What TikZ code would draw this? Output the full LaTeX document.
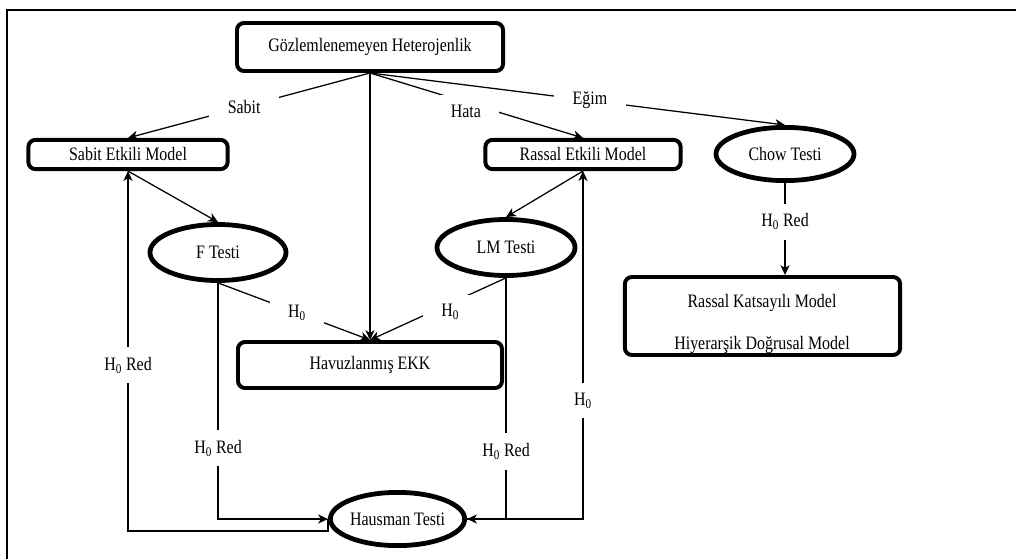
\documentclass[tikz,border=0pt]{standalone}
\usepackage{fontspec}
\setmainfont{Liberation Serif}[FakeStretch=0.84]
\usepackage{tikz}
\usetikzlibrary{shapes.geometric, arrows.meta, positioning, calc}
\tikzstyle{model} = [rectangle, draw=black, line width=2.8pt, rounded corners=5pt, text centered]
\tikzstyle{test} = [ellipse, draw=black, line width=3.4pt, inner sep=0pt, text centered]
\tikzstyle{arrow} = [line width=0.9pt, -{Stealth[length=7pt, width=6.5pt, inset=2pt]}]
\tikzstyle{link} = [line width=0.9pt]
\tikzstyle{tag} = [fill=white, inner xsep=13pt, inner ysep=7pt]

\begin{document}
\begin{tikzpicture}[x=0.025cm, y=-0.025cm, font=\fontsize{13.5}{16}\selectfont]
    \useasboundingbox (0,0) rectangle (1016,559);
    % Frame
    \draw[line width=1.2pt] (7,559) -- (7,10) -- (1016,10);

    % Models
    \node[model, minimum width=6.65cm, minimum height=1.2cm] (gozlem) at (370,47) {Gözlemlenemeyen Heterojenlik};
    \node[model, minimum width=4.98cm, minimum height=0.73cm] (sabit) at (128,154.5) {Sabit Etkili Model};
    \node[model, minimum width=4.88cm, minimum height=0.73cm] (rassal) at (583,154.5) {Rassal Etkili Model};
    \node[model, minimum width=6.6cm, minimum height=1.15cm] (havuz) at (370,365) {Havuzlanmış EKK};
    \node[model, minimum width=6.88cm, minimum height=1.95cm] (katsayi) at (762.5,316) {};
    \node (katsayi1) at (762,303) {Rassal Katsayılı Model};
    \node (katsayi2) at (762,345) {Hiyerarşik Doğrusal Model};

    % Tests
    \node[test, minimum width=3.4cm, minimum height=1.4cm] (ftest) at (218,252.5) {F Testi};
    \node[test, minimum width=3.45cm, minimum height=1.4cm] (lmtest) at (506,247.5) {LM Testi};
    \node[test, minimum width=3.45cm, minimum height=1.33cm] (chow) at (785,154) {Chow Testi};
    \node[test, minimum width=3.35cm, minimum height=1.33cm] (haus) at (397.5,519) {Hausman Testi};

    % From the top box
    \draw[arrow] (gozlem.south) -- node[tag, pos=0.52] {Sabit} (sabit.north);
    \draw[arrow] (gozlem.south) -- node[tag, pos=0.45, yshift=-0.23cm] {Hata} (rassal.north);
    \draw[arrow] (gozlem.south) -- node[tag, pos=0.53] {Eğim} (chow.north);
    \draw[arrow] (gozlem.south) -- (havuz.north);

    % Models to tests
    \draw[arrow] (sabit.south) -- (ftest.north);
    \draw[arrow] (rassal.south) -- (lmtest.north);
    \draw[arrow] (ftest.south) -- node[tag, pos=0.52] {H\textsubscript{0}} (havuz.north);
    \draw[arrow] (lmtest.south) -- node[tag, pos=0.41, yshift=-0.22cm] {H\textsubscript{0}} (havuz.north);

    % Hausman
    \draw[arrow] (ftest.south) |- node[tag, pos=0.35] {H\textsubscript{0} Red} (haus.west);
    \draw[arrow] (lmtest.south) |- node[tag, pos=0.36] {H\textsubscript{0} Red} (haus.east);
    \draw[arrow] (haus.west) -- ++(0,12) -| node[tag, pos=0.73] {H\textsubscript{0} Red} (sabit.south);
    \draw[arrow] (haus.east) -| node[tag, pos=0.67] {H\textsubscript{0}} (rassal.south);

    % Chow
    \draw[arrow] (chow.south) -- node[tag, pos=0.42] {H\textsubscript{0} Red} (chow.south |- katsayi.north);
\end{tikzpicture}
\end{document}
